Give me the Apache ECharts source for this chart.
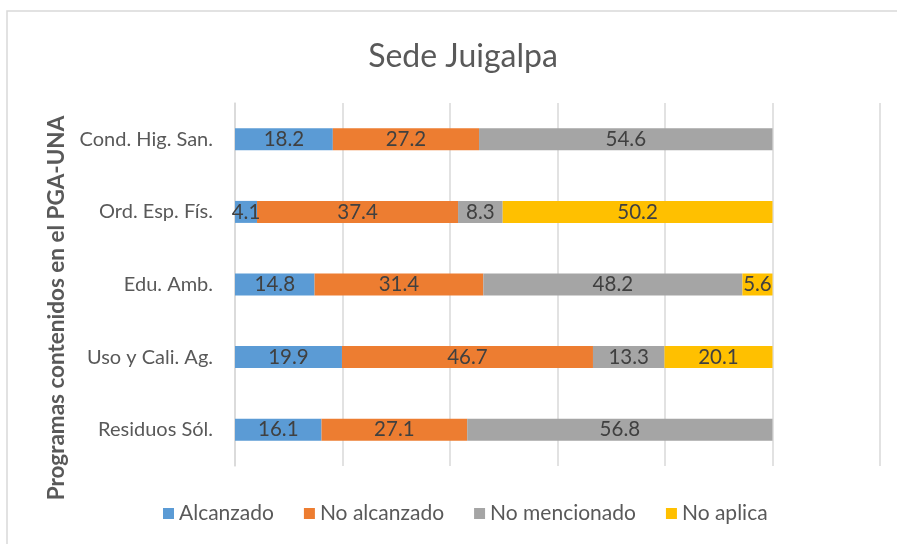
<!DOCTYPE html>
<html>
<head>
<meta charset="utf-8">
<script src="https://cdn.jsdelivr.net/npm/echarts@6/dist/echarts.min.js"></script>
<style>
html,body{margin:0;padding:0;background:#fff;}
#c{width:897px;height:544px;}
</style>
</head>
<body>
<div id="c"></div>
<script>
const categories = ['Cond. Hig. San.', 'Ord. Esp. Fís.', 'Edu. Amb.', 'Uso y Cali. Ag.', 'Residuos Sól.'];
const alcanzado = [18.2, 4.1, 14.8, 19.9, 16.1];
const noAlcanzado = [27.2, 37.4, 31.4, 46.7, 27.1];
const noMencionado = [54.6, 8.3, 48.2, 13.3, 56.8];
const noAplica = [null, 50.2, 5.6, 20.1, null];
const seriesNames = ['Alcanzado', 'No alcanzado', 'No mencionado', 'No aplica'];
const colors = ['#5B9BD5', '#ED7D31', '#A5A5A5', '#FFC000'];

const FONT = 'Lato';
const chart = echarts.init(document.getElementById('c'));
const mk = (name, data, color) => ({
  name, type: 'bar', stack: 'total', data,
  barWidth: 22,
  itemStyle: { color },
  label: { show: true, position: 'inside', color: '#404040', fontSize: 20.5, fontFamily: FONT,
           formatter: p => p.value == null ? '' : p.value.toFixed(1) },
  emphasis: { disabled: true }
});
chart.setOption({
  animation: false,
  textStyle: { fontFamily: FONT },
  title: { text: 'Sede Juigalpa', left: 458, textAlign: 'center', top: 36,
           textStyle: { fontSize: 32, fontWeight: 'normal', color: '#595959', fontFamily: FONT } },
  legend: { bottom: 15, left: 158, itemWidth: 11, itemHeight: 11, itemGap: 30,
            icon: 'rect', textStyle: { fontSize: 21, color: '#595959', fontFamily: FONT },
            data: seriesNames },
  grid: { left: 235, right: 17, top: 103, bottom: 78, containLabel: false },
  xAxis: { type: 'value', min: 0, max: 120, interval: 20,
           axisLabel: { show: false }, axisLine: { show: false }, axisTick: { show: false },
           splitLine: { lineStyle: { color: '#D9D9D9', width: 1.5 } } },
  yAxis: { type: 'category', data: categories, inverse: true,
           axisLine: { lineStyle: { color: '#D9D9D9', width: 1.5 } }, axisTick: { show: false },
           axisLabel: { color: '#595959', fontSize: 20, fontFamily: FONT, margin: 22 } },
  graphic: [
    { type: 'rect', shape: { x: 7, y: 11, width: 900, height: 540 },
      style: { fill: 'none', stroke: '#D9D9D9', lineWidth: 1.5 }, z: -1 },
    { type: 'text', x: 57, y: 308, rotation: Math.PI / 2,
      style: { text: 'Programas contenidos en el PGA-UNA', fontSize: 22.5, fontWeight: 'bold',
               fill: '#595959', fontFamily: FONT, align: 'center', verticalAlign: 'middle' } }
  ],
  series: [
    mk(seriesNames[0], alcanzado, colors[0]),
    mk(seriesNames[1], noAlcanzado, colors[1]),
    mk(seriesNames[2], noMencionado, colors[2]),
    mk(seriesNames[3], noAplica, colors[3])
  ]
});
</script>
</body>
</html>
